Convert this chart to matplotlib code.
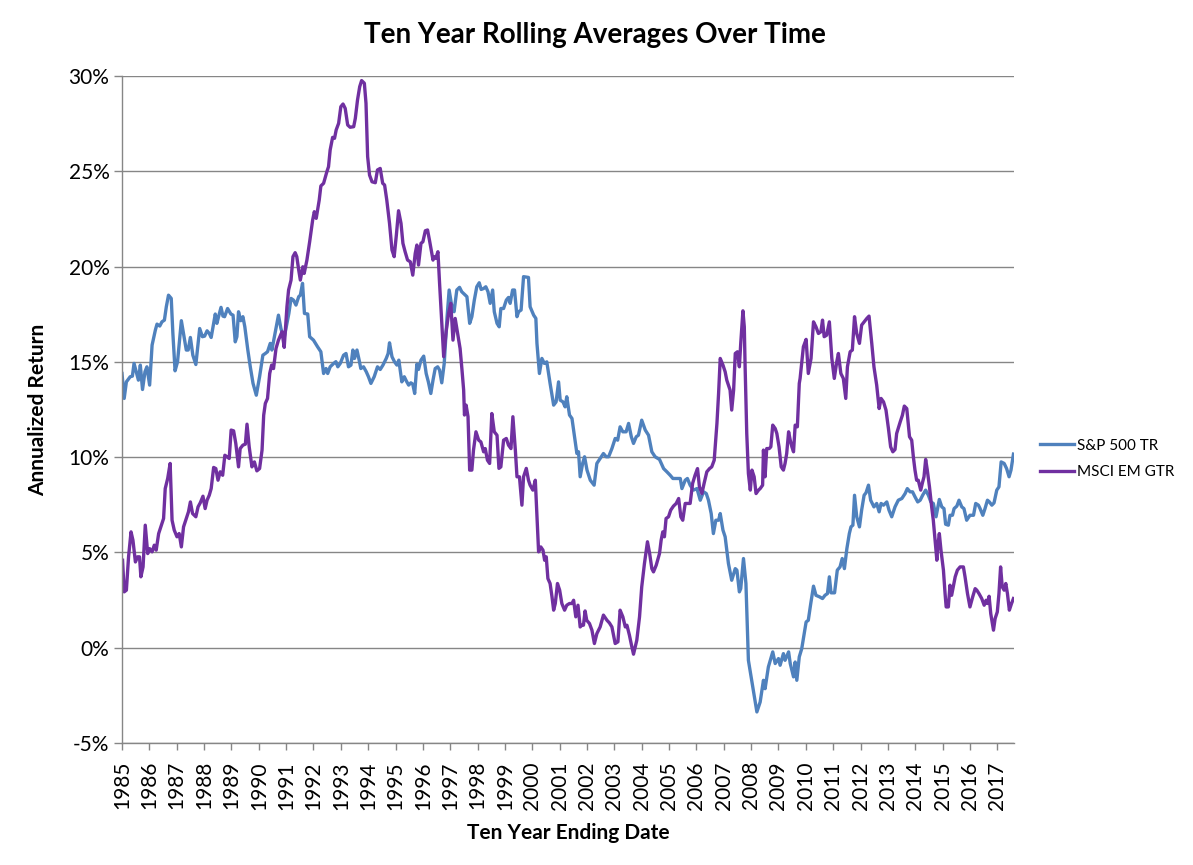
import matplotlib
matplotlib.use("Agg")
import matplotlib.pyplot as plt
from matplotlib.ticker import FuncFormatter

plt.rcParams['font.family'] = ['Lato', 'DejaVu Sans']

# ten year rolling annualized returns (%)
sp_years = [1985.00, 1985.08, 1985.16, 1985.30, 1985.38, 1985.44, 1985.52, 1985.60, 1985.67, 1985.75,
            1985.84, 1985.91, 1986.01, 1986.10, 1986.22, 1986.28, 1986.38, 1986.46, 1986.55, 1986.62,
            1986.70, 1986.80, 1986.86, 1986.94, 1987.03, 1987.17, 1987.25, 1987.35, 1987.42, 1987.50,
            1987.59, 1987.70, 1987.84, 1987.94, 1988.02, 1988.11, 1988.19, 1988.26, 1988.41, 1988.47,
            1988.53, 1988.62, 1988.69, 1988.75, 1988.86, 1988.98, 1989.06, 1989.14, 1989.20, 1989.26,
            1989.34, 1989.42, 1989.49, 1989.60, 1989.69, 1989.79, 1989.91, 1990.03, 1990.15, 1990.24,
            1990.32, 1990.42, 1990.48, 1990.57, 1990.64, 1990.72, 1990.81, 1990.92, 1991.10, 1991.18,
            1991.27, 1991.36, 1991.46, 1991.52, 1991.60, 1991.67, 1991.79, 1991.86, 1992.00, 1992.15,
            1992.27, 1992.37, 1992.46, 1992.52, 1992.61, 1992.74, 1992.82, 1992.89, 1992.98, 1993.10,
            1993.19, 1993.28, 1993.37, 1993.44, 1993.50, 1993.59, 1993.67, 1993.73, 1993.83, 1993.93,
            1994.01, 1994.10, 1994.22, 1994.34, 1994.44, 1994.54, 1994.66, 1994.73, 1994.78, 1994.87,
            1994.96, 1995.05, 1995.12, 1995.23, 1995.32, 1995.39, 1995.48, 1995.56, 1995.63, 1995.70,
            1995.78, 1995.84, 1995.93, 1996.03, 1996.12, 1996.20, 1996.29, 1996.37, 1996.45, 1996.54,
            1996.61, 1996.69, 1996.78, 1996.88, 1996.96, 1997.06, 1997.14, 1997.24, 1997.34, 1997.42,
            1997.55, 1997.61, 1997.71, 1997.79, 1997.88, 1997.97, 1998.06, 1998.13, 1998.22, 1998.30,
            1998.38, 1998.46, 1998.55, 1998.61, 1998.71, 1998.79, 1998.85, 1998.95, 1999.05, 1999.13,
            1999.19, 1999.28, 1999.35, 1999.44, 1999.50, 1999.59, 1999.68, 1999.86, 1999.92, 2000.05,
            2000.13, 2000.17, 2000.26, 2000.35, 2000.44, 2000.53, 2000.65, 2000.78, 2000.87, 2000.96,
            2001.02, 2001.12, 2001.20, 2001.26, 2001.36, 2001.45, 2001.51, 2001.63, 2001.69, 2001.75,
            2001.84, 2001.91, 2002.00, 2002.12, 2002.26, 2002.36, 2002.48, 2002.60, 2002.70, 2002.79,
            2002.91, 2003.03, 2003.12, 2003.21, 2003.31, 2003.43, 2003.52, 2003.62, 2003.70, 2003.80,
            2003.88, 2004.00, 2004.13, 2004.25, 2004.37, 2004.49, 2004.65, 2004.80, 2004.92, 2005.04,
            2005.14, 2005.28, 2005.41, 2005.47, 2005.59, 2005.67, 2005.77, 2005.89, 2006.02, 2006.14,
            2006.26, 2006.36, 2006.44, 2006.54, 2006.62, 2006.71, 2006.81, 2006.87, 2006.97, 2007.05,
            2007.17, 2007.29, 2007.42, 2007.48, 2007.57, 2007.62, 2007.72, 2007.81, 2007.90, 2008.02,
            2008.21, 2008.33, 2008.45, 2008.51, 2008.63, 2008.79, 2008.88, 2009.00, 2009.06, 2009.18,
            2009.24, 2009.37, 2009.43, 2009.55, 2009.61, 2009.67, 2009.76, 2009.85, 2009.94, 2010.01,
            2010.09, 2010.18, 2010.28, 2010.37, 2010.50, 2010.61, 2010.70, 2010.79, 2010.86, 2010.92,
            2011.05, 2011.15, 2011.25, 2011.33, 2011.41, 2011.50, 2011.59, 2011.65, 2011.72, 2011.78,
            2011.86, 2011.96, 2012.04, 2012.13, 2012.20, 2012.29, 2012.37, 2012.49, 2012.59, 2012.68,
            2012.75, 2012.84, 2012.96, 2013.04, 2013.14, 2013.26, 2013.38, 2013.51, 2013.63, 2013.71,
            2013.81, 2013.90, 2013.99, 2014.09, 2014.18, 2014.27, 2014.38, 2014.48, 2014.57, 2014.66,
            2014.76, 2014.88, 2014.97, 2015.05, 2015.11, 2015.21, 2015.27, 2015.36, 2015.42, 2015.52,
            2015.60, 2015.70, 2015.78, 2015.88, 2016.00, 2016.13, 2016.21, 2016.31, 2016.37, 2016.47,
            2016.55, 2016.64, 2016.71, 2016.80, 2016.88, 2016.98, 2017.06, 2017.14, 2017.25, 2017.34,
            2017.43, 2017.50, 2017.59]
sp_values = [14.39, 13.08, 13.95, 14.22, 14.25, 14.92, 14.48, 14.04, 14.83, 13.55,
             14.48, 14.74, 13.78, 15.88, 16.67, 16.98, 16.88, 17.10, 17.19, 17.89,
             18.50, 18.33, 16.49, 14.53, 15.00, 17.16, 16.49, 15.62, 15.62, 16.28,
             15.35, 14.86, 16.75, 16.32, 16.35, 16.63, 16.49, 16.28, 17.51, 17.02,
             17.37, 17.86, 17.40, 17.37, 17.80, 17.51, 17.45, 16.05, 16.32, 17.63,
             17.16, 17.37, 16.84, 15.62, 14.74, 13.87, 13.25, 14.22, 15.35, 15.44,
             15.53, 15.97, 15.62, 16.32, 16.84, 17.45, 16.75, 16.20, 17.54, 18.33,
             18.24, 17.98, 18.42, 18.50, 19.12, 17.54, 17.51, 16.32, 16.14, 15.79,
             15.53, 14.39, 14.65, 14.39, 14.74, 14.92, 15.01, 14.74, 14.92, 15.35,
             15.44, 14.74, 14.83, 15.62, 15.18, 15.62, 15.09, 14.65, 14.74, 14.48,
             14.22, 13.87, 14.22, 14.74, 14.60, 14.83, 15.18, 15.44, 16.00, 15.27,
             15.01, 14.83, 15.09, 13.95, 14.22, 14.01, 13.78, 13.90, 13.83, 13.34,
             14.88, 14.60, 15.09, 15.30, 14.39, 13.95, 13.34, 14.04, 14.65, 14.74,
             14.57, 13.90, 14.92, 17.28, 18.77, 17.89, 17.63, 18.77, 18.91, 18.68,
             18.50, 18.42, 17.02, 17.37, 18.24, 18.94, 19.15, 18.80, 18.85, 18.94,
             18.68, 18.07, 18.77, 17.63, 17.02, 16.84, 17.80, 17.80, 18.24, 18.38,
             18.07, 18.77, 18.77, 17.37, 17.63, 17.72, 19.47, 19.43, 17.89, 17.45,
             17.28, 15.97, 14.39, 15.18, 14.92, 15.00, 13.87, 12.73, 12.90, 13.95,
             12.99, 12.90, 12.64, 13.17, 12.21, 12.03, 11.42, 10.19, 10.28, 8.97,
             9.67, 10.02, 9.32, 8.79, 8.53, 9.67, 9.93, 10.19, 10.02, 10.02,
             10.45, 10.98, 10.89, 11.59, 11.33, 11.33, 11.77, 11.07, 10.72, 11.07,
             11.15, 11.94, 11.42, 11.15, 10.28, 10.02, 9.88, 9.40, 9.23, 9.05,
             8.88, 8.88, 8.88, 8.35, 8.79, 8.88, 8.53, 8.27, 8.35, 7.74,
             8.18, 8.09, 7.74, 7.04, 5.99, 6.69, 6.69, 7.04, 6.17, 5.82,
             4.42, 3.54, 4.15, 4.07, 2.93, 3.10, 4.68, 3.37, -0.66, -1.71,
             -3.37, -2.85, -1.71, -2.15, -1.01, -0.22, -0.83, -0.57, -0.92, -0.31,
             -0.66, -0.22, -0.83, -1.53, -0.75, -1.71, -0.48, -0.05, 0.74, 1.35,
             1.44, 2.32, 3.23, 2.75, 2.67, 2.58, 2.75, 2.84, 3.72, 2.88,
             2.88, 4.07, 4.24, 4.68, 4.15, 5.20, 5.99, 6.34, 6.43, 8.00,
             6.87, 6.34, 7.22, 8.00, 8.13, 8.53, 7.74, 7.39, 7.57, 7.13,
             7.57, 7.48, 7.65, 7.22, 6.87, 7.39, 7.74, 7.83, 8.09, 8.35,
             8.18, 8.18, 7.92, 7.65, 7.74, 8.00, 8.27, 8.00, 7.65, 7.57,
             6.87, 7.78, 7.39, 7.30, 6.48, 6.43, 6.95, 6.95, 7.30, 7.43,
             7.74, 7.39, 7.30, 6.69, 6.95, 6.95, 7.57, 7.48, 7.30, 6.95,
             7.30, 7.74, 7.65, 7.48, 7.60, 8.27, 8.44, 9.75, 9.67, 9.40,
             8.97, 9.32, 10.16]

em_years = [1985.02, 1985.08, 1985.16, 1985.24, 1985.33, 1985.40, 1985.49, 1985.57, 1985.64, 1985.69,
            1985.77, 1985.85, 1985.94, 1986.01, 1986.10, 1986.18, 1986.25, 1986.34, 1986.44, 1986.52,
            1986.58, 1986.67, 1986.76, 1986.83, 1986.91, 1987.01, 1987.09, 1987.17, 1987.25, 1987.35,
            1987.43, 1987.50, 1987.58, 1987.70, 1987.78, 1987.86, 1987.96, 1988.04, 1988.11, 1988.19,
            1988.26, 1988.35, 1988.43, 1988.51, 1988.59, 1988.68, 1988.76, 1988.84, 1988.92, 1988.99,
            1989.08, 1989.16, 1989.26, 1989.32, 1989.42, 1989.51, 1989.57, 1989.65, 1989.75, 1989.84,
            1989.93, 1990.03, 1990.12, 1990.18, 1990.24, 1990.32, 1990.40, 1990.47, 1990.54, 1990.63,
            1990.72, 1990.85, 1990.93, 1991.03, 1991.09, 1991.18, 1991.25, 1991.33, 1991.39, 1991.46,
            1991.52, 1991.61, 1991.66, 1991.76, 1991.86, 1991.97, 1992.03, 1992.10, 1992.21, 1992.27,
            1992.37, 1992.49, 1992.55, 1992.61, 1992.70, 1992.77, 1992.83, 1992.92, 1993.00, 1993.08,
            1993.16, 1993.25, 1993.34, 1993.47, 1993.53, 1993.61, 1993.69, 1993.76, 1993.86, 1993.92,
            1993.98, 1994.05, 1994.14, 1994.26, 1994.34, 1994.44, 1994.53, 1994.60, 1994.68, 1994.78,
            1994.87, 1994.95, 1995.03, 1995.11, 1995.20, 1995.27, 1995.35, 1995.44, 1995.54, 1995.63,
            1995.72, 1995.78, 1995.84, 1995.93, 1996.00, 1996.09, 1996.17, 1996.24, 1996.37, 1996.41,
            1996.47, 1996.55, 1996.61, 1996.70, 1996.76, 1996.85, 1996.94, 1997.02, 1997.10, 1997.18,
            1997.27, 1997.36, 1997.43, 1997.49, 1997.52, 1997.58, 1997.65, 1997.71, 1997.79, 1997.85,
            1997.94, 1998.04, 1998.12, 1998.22, 1998.28, 1998.36, 1998.44, 1998.52, 1998.61, 1998.71,
            1998.78, 1998.85, 1998.95, 1999.05, 1999.13, 1999.22, 1999.29, 1999.38, 1999.44, 1999.53,
            1999.62, 1999.68, 1999.78, 1999.86, 1999.92, 2000.02, 2000.11, 2000.17, 2000.23, 2000.31,
            2000.39, 2000.45, 2000.51, 2000.57, 2000.65, 2000.72, 2000.78, 2000.84, 2000.92, 2001.00,
            2001.08, 2001.18, 2001.26, 2001.36, 2001.45, 2001.51, 2001.59, 2001.67, 2001.75, 2001.81,
            2001.87, 2001.93, 2001.99, 2002.09, 2002.18, 2002.27, 2002.36, 2002.48, 2002.60, 2002.73,
            2002.82, 2002.91, 2003.03, 2003.13, 2003.21, 2003.31, 2003.40, 2003.46, 2003.55, 2003.64,
            2003.70, 2003.82, 2003.92, 2004.00, 2004.10, 2004.21, 2004.29, 2004.37, 2004.43, 2004.53,
            2004.65, 2004.71, 2004.77, 2004.83, 2004.89, 2004.98, 2005.06, 2005.16, 2005.26, 2005.35,
            2005.43, 2005.50, 2005.59, 2005.67, 2005.77, 2005.86, 2005.95, 2006.04, 2006.11, 2006.20,
            2006.28, 2006.38, 2006.48, 2006.56, 2006.65, 2006.75, 2006.81, 2006.87, 2006.97, 2007.05,
            2007.11, 2007.17, 2007.23, 2007.29, 2007.36, 2007.42, 2007.50, 2007.57, 2007.62, 2007.70,
            2007.75, 2007.78, 2007.84, 2007.90, 2007.97, 2008.03, 2008.11, 2008.18, 2008.27, 2008.33,
            2008.42, 2008.45, 2008.51, 2008.57, 2008.66, 2008.72, 2008.79, 2008.88, 2008.94, 2009.02,
            2009.10, 2009.18, 2009.24, 2009.30, 2009.37, 2009.43, 2009.49, 2009.55, 2009.61, 2009.69,
            2009.76, 2009.79, 2009.91, 2010.01, 2010.09, 2010.19, 2010.28, 2010.37, 2010.46, 2010.55,
            2010.61, 2010.67, 2010.76, 2010.86, 2010.95, 2011.04, 2011.13, 2011.19, 2011.28, 2011.37,
            2011.46, 2011.52, 2011.62, 2011.70, 2011.78, 2011.86, 2011.96, 2012.04, 2012.13, 2012.23,
            2012.31, 2012.41, 2012.49, 2012.59, 2012.68, 2012.75, 2012.84, 2012.93, 2013.02, 2013.10,
            2013.18, 2013.26, 2013.32, 2013.45, 2013.53, 2013.60, 2013.69, 2013.79, 2013.87, 2013.93,
            2013.99, 2014.05, 2014.11, 2014.20, 2014.27, 2014.32, 2014.38, 2014.44, 2014.52, 2014.60,
            2014.66, 2014.72, 2014.79, 2014.82, 2014.88, 2014.94, 2015.03, 2015.09, 2015.13, 2015.21,
            2015.27, 2015.33, 2015.39, 2015.46, 2015.54, 2015.64, 2015.76, 2015.82, 2015.91, 2016.00,
            2016.10, 2016.19, 2016.25, 2016.33, 2016.43, 2016.52, 2016.59, 2016.64, 2016.70, 2016.76,
            2016.86, 2016.92, 2017.00, 2017.06, 2017.12, 2017.18, 2017.25, 2017.31, 2017.37, 2017.44,
            2017.52, 2017.59]
em_values = [4.59, 2.93, 3.02, 4.77, 6.08, 5.64, 4.50, 4.77, 4.77, 3.72,
             4.24, 6.43, 4.94, 5.20, 5.03, 5.38, 5.12, 5.99, 6.43, 6.78,
             8.35, 8.88, 9.67, 6.69, 6.17, 5.82, 5.99, 5.29, 6.34, 6.78,
             7.13, 7.65, 7.04, 6.87, 7.39, 7.60, 7.95, 7.30, 7.74, 8.00,
             8.35, 9.46, 9.40, 8.79, 9.23, 9.05, 10.10, 10.02, 9.93, 11.42,
             11.38, 10.72, 9.49, 10.45, 10.63, 10.68, 11.73, 10.54, 9.49, 9.75,
             9.28, 9.40, 10.37, 12.20, 12.82, 13.08, 14.39, 14.83, 14.65, 15.70,
             16.14, 16.58, 15.76, 17.89, 18.77, 19.29, 20.52, 20.73, 20.52, 19.82,
             19.29, 19.99, 19.64, 20.34, 21.30, 22.44, 22.88, 22.53, 23.49, 24.23,
             24.37, 24.98, 25.24, 26.12, 26.78, 26.73, 27.17, 27.52, 28.39, 28.53,
             28.30, 27.43, 27.31, 27.34, 27.78, 28.74, 29.44, 29.76, 29.62, 28.57,
             25.77, 24.80, 24.45, 24.40, 25.07, 25.15, 24.37, 24.28, 23.49, 22.27,
             20.87, 20.52, 21.65, 22.93, 22.27, 21.22, 20.78, 20.34, 20.25, 19.55,
             20.69, 21.13, 20.08, 21.22, 21.30, 21.88, 21.92, 21.39, 20.34, 20.52,
             20.43, 20.78, 19.12, 16.84, 15.27, 16.58, 17.54, 18.07, 16.14, 17.28,
             16.49, 15.70, 14.57, 13.52, 12.21, 12.73, 12.12, 9.32, 9.32, 10.37,
             11.33, 10.89, 10.80, 10.28, 10.45, 9.84, 9.67, 12.29, 11.33, 11.15,
             9.41, 9.49, 10.89, 10.98, 10.63, 10.45, 12.12, 10.37, 8.97, 8.97,
             7.48, 8.97, 9.41, 8.79, 8.53, 8.27, 8.79, 6.87, 5.03, 5.29,
             5.12, 4.59, 4.77, 3.63, 3.37, 2.67, 1.97, 2.32, 3.37, 3.02,
             2.32, 1.97, 2.23, 2.32, 2.32, 2.49, 1.62, 2.23, 1.09, 1.18,
             1.18, 1.93, 1.44, 1.27, 0.92, 0.22, 0.74, 1.09, 1.71, 1.44,
             1.30, 1.09, 0.22, 0.31, 1.97, 1.62, 1.09, 1.18, 0.66, 0.04,
             -0.34, 0.39, 1.62, 3.19, 4.42, 5.56, 4.94, 4.15, 3.98, 4.33,
             4.94, 5.64, 6.08, 5.82, 6.78, 6.87, 7.22, 7.43, 7.57, 7.83,
             6.87, 6.69, 7.57, 7.57, 7.57, 8.62, 9.05, 9.40, 8.44, 8.09,
             8.62, 9.23, 9.40, 9.49, 9.84, 11.77, 13.34, 15.18, 14.83, 14.48,
             14.04, 13.78, 13.52, 12.47, 13.52, 15.44, 15.53, 14.74, 15.97, 17.68,
             16.84, 14.74, 11.24, 9.14, 8.27, 9.32, 8.97, 8.09, 8.27, 8.35,
             8.53, 10.37, 8.97, 10.45, 10.45, 10.54, 11.68, 11.50, 11.24, 10.54,
             9.49, 9.32, 9.67, 10.19, 11.33, 10.89, 10.54, 10.28, 11.68, 11.59,
             13.87, 14.13, 15.79, 16.18, 14.39, 15.18, 17.10, 16.84, 16.49, 16.58,
             17.19, 16.32, 16.40, 17.10, 15.18, 14.13, 15.00, 15.44, 14.39, 14.13,
             13.08, 14.74, 15.53, 15.62, 17.37, 16.49, 15.97, 16.93, 17.10, 17.28,
             17.40, 15.97, 14.74, 13.78, 12.55, 13.08, 12.90, 12.47, 11.50, 10.54,
             10.28, 10.40, 11.24, 11.85, 12.20, 12.68, 12.55, 11.07, 10.89, 10.02,
             9.32, 8.79, 8.79, 8.27, 8.70, 8.97, 9.88, 9.32, 8.44, 7.39,
             6.69, 5.73, 4.59, 5.29, 5.99, 5.12, 4.07, 2.84, 2.14, 2.14,
             3.28, 2.75, 3.19, 3.72, 4.07, 4.24, 4.24, 3.72, 2.84, 2.14,
             2.67, 3.10, 3.02, 2.84, 2.58, 2.23, 2.49, 2.32, 2.70, 1.79,
             0.92, 1.53, 1.88, 2.84, 4.24, 3.19, 3.02, 3.37, 2.84, 1.97,
             2.32, 2.58]

year_ticks = list(range(1985, 2018))
y_ticks = [-5, 0, 5, 10, 15, 20, 25, 30]

grid_color = '#868686'

fig = plt.figure(figsize=(11.93, 8.65), dpi=100)
ax = fig.add_axes([122 / 1193, 1 - 743 / 865, (1014 - 122) / 1193, (743 - 76) / 865])

ax.plot(sp_years, sp_values, color='#4F81BD', lw=2.4, label='S&P 500 TR', solid_joinstyle='round')
ax.plot(em_years, em_values, color='#7030A0', lw=2.4, label='MSCI EM GTR', solid_joinstyle='round')

ax.set_xlim(1985, 2017.61)
ax.set_ylim(-5, 30)
ax.set_yticks(y_ticks)
ax.yaxis.set_major_formatter(FuncFormatter(lambda v, p: f"{v:.0f}%"))
ax.set_xticks(year_ticks)
ax.set_xticklabels([str(y) for y in year_ticks], rotation=90)

ax.grid(axis='y', color=grid_color, lw=1)
ax.set_axisbelow(True)
for side in ['top', 'right']:
    ax.spines[side].set_visible(False)
for side in ['left', 'bottom']:
    ax.spines[side].set_color(grid_color)
    ax.spines[side].set_linewidth(1)
ax.tick_params(axis='both', colors=grid_color, labelcolor='black', labelsize=15, width=1)
ax.tick_params(axis='y', length=6, pad=3)
ax.tick_params(axis='x', length=5, pad=8)

ax.set_title('Ten Year Rolling Averages Over Time', fontsize=20, fontweight='bold', pad=24, x=0.53)
ax.set_xlabel('Ten Year Ending Date', fontsize=15, fontweight='bold', labelpad=10)
ax.set_ylabel('Annualized Return', fontsize=15, fontweight='bold', labelpad=15)

fig.legend(loc='center left', bbox_to_anchor=(1040 / 1193, 1 - 459 / 865), frameon=False,
           fontsize=11, handlelength=2.2, handletextpad=0.25, labelspacing=0.85,
           borderpad=0, borderaxespad=0)

fig.savefig('out.png', dpi=100)
